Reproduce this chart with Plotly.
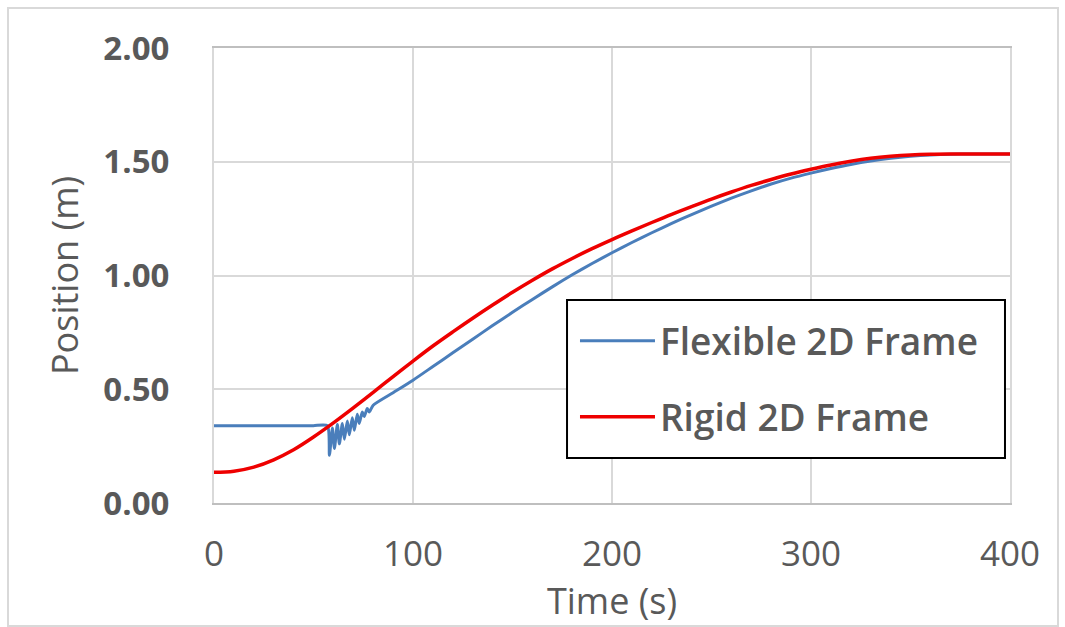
import plotly.graph_objects as go

# ---- data ----
rigid_t = [0, 10, 20, 30, 40, 50, 60, 70, 80, 90, 100, 110, 120, 130, 140, 150, 160, 170, 180, 190,
           200, 210, 220, 230, 240, 250, 260, 270, 280, 290, 300, 310, 320, 330, 340, 350, 360, 370,
           380, 390, 400]
rigid_pos = [0.135, 0.14, 0.158, 0.19, 0.234, 0.29, 0.352, 0.418, 0.486, 0.556, 0.624, 0.69, 0.752,
             0.812, 0.87, 0.926, 0.979, 1.029, 1.075, 1.118, 1.158, 1.196, 1.233, 1.269, 1.303,
             1.336, 1.367, 1.396, 1.422, 1.446, 1.467, 1.486, 1.502, 1.515, 1.524, 1.53, 1.533,
             1.534, 1.534, 1.534, 1.534]

flex_t = [0, 10, 20, 30, 40, 50, 57, 58, 59.5, 60.5, 62, 63, 64.5, 65.5, 67, 68, 69.5, 70.5, 72, 73,
          74.5, 75.5, 77, 78, 80, 90, 100, 110, 120, 130, 140, 150, 160, 170, 180, 190, 200,
          210, 220, 230, 240, 250, 260, 270, 280, 290, 300, 310, 320, 330, 340, 350, 360, 370, 380,
          390, 400]
flex_pos = [0.34, 0.34, 0.34, 0.34, 0.34, 0.34, 0.34, 0.21, 0.33, 0.24, 0.345, 0.26, 0.35, 0.28,
            0.36, 0.30, 0.375, 0.32, 0.39, 0.35, 0.40, 0.38, 0.415, 0.40, 0.43, 0.485, 0.54,
            0.60, 0.66, 0.72, 0.78, 0.838, 0.895, 0.95, 1.003, 1.053, 1.10, 1.145, 1.188, 1.229,
            1.268, 1.305, 1.34, 1.372, 1.402, 1.428, 1.45, 1.47, 1.488, 1.503, 1.515, 1.524, 1.53,
            1.533, 1.534, 1.534, 1.534]

series_names = ["Flexible 2D Frame", "Rigid 2D Frame"]
x_ticks = [0, 100, 200, 300, 400]
y_ticks = [0.0, 0.5, 1.0, 1.5, 2.0]

GRID = "#d9d9d9"
TXT = "#595959"
FONT = "Open Sans"

fig = go.Figure()
fig.add_trace(go.Scatter(x=flex_t, y=flex_pos, mode="lines", name=series_names[0],
                         legendgroup="a",
                         line=dict(color="#4a7ebb", width=3, shape="spline", smoothing=0.6)))
fig.add_trace(go.Scatter(x=rigid_t, y=rigid_pos, mode="lines", name=series_names[1],
                         legendgroup="b",
                         line=dict(color="#ee0000", width=3.5, shape="spline", smoothing=1.0)))

# legend frame (paper coordinates of the plot area)
fig.add_shape(type="rect", xref="paper", yref="paper",
              x0=0.4435, x1=0.9937, y0=0.099, y1=0.446,
              line=dict(color="black", width=2), fillcolor="white", layer="above")

fig.update_layout(
    width=1065, height=627,
    margin=dict(l=214, r=55, t=48, b=124),
    paper_bgcolor="white", plot_bgcolor="white",
    font=dict(family=FONT, color=TXT),
    legend=dict(x=0.4535, y=0.424, xanchor="left", yanchor="top",
                borderwidth=0, bgcolor="rgba(0,0,0,0)",
                font=dict(size=37, color=TXT, weight=600),
                itemwidth=75,
                traceorder="grouped", tracegroupgap=25),
    xaxis=dict(range=[0, 400], tickvals=x_ticks, ticktext=[str(v) for v in x_ticks],
               showgrid=True, gridcolor=GRID, gridwidth=2, zeroline=False,
               showline=True, linecolor="#bfbfbf", linewidth=2, mirror=True,
               ticks="", ticklabelstandoff=19,
               tickfont=dict(size=35, color=TXT),
               title=dict(text="Time (s)", font=dict(size=36, color=TXT), standoff=14)),
    yaxis=dict(range=[0, 2.0], tickvals=y_ticks, ticktext=["%.2f" % v for v in y_ticks],
               showgrid=True, gridcolor=GRID, gridwidth=2, zeroline=False,
               showline=True, linecolor=GRID, linewidth=2, mirror=True,
               ticks="", ticklabelstandoff=36,
               tickfont=dict(size=33, color=TXT, weight=700),
               title=dict(text="Position (m)", font=dict(size=36, color=TXT), standoff=14)),
)

# outer chart-area border
fig.add_shape(type="rect", xref="paper", yref="paper",
              x0=(8 - 214) / 796, x1=(1058 - 214) / 796,
              y0=(503 - 626) / 455, y1=(503 - 8) / 455,
              line=dict(color="#d9d9d9", width=2), layer="below")

fig.write_html("out.html")
